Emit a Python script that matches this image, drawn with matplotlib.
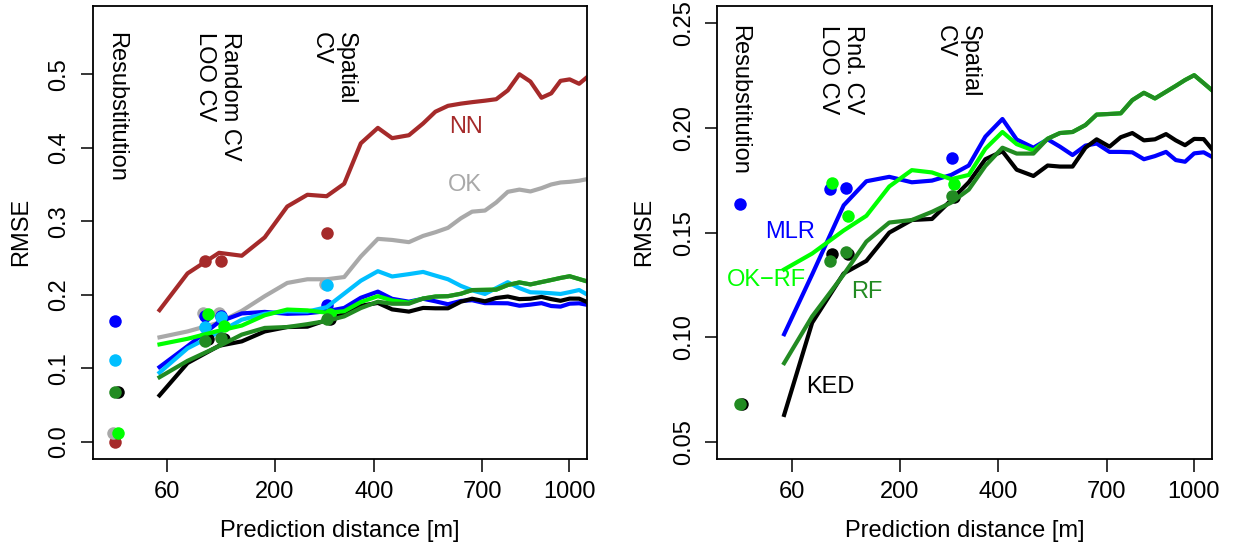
import numpy as np
import matplotlib
matplotlib.use('Agg')
import matplotlib.pyplot as plt
import matplotlib.transforms as mtransforms

plt.rcParams['font.family'] = ['Liberation Sans', 'DejaVu Sans']
plt.rcParams['font.size'] = 17

# prediction distance of each bin [m]
dist = [53, 80, 117, 148, 183, 221, 258, 296, 333, 370, 410, 445, 488, 526, 560,
        596, 634, 668, 708, 744, 782, 821, 859, 898, 933, 967, 1001, 1037, 1071]

rmse_nn = [0.179, 0.229, 0.257, 0.253, 0.278, 0.320, 0.336, 0.334, 0.351, 0.406,
           0.427, 0.413, 0.417, 0.433, 0.449, 0.457, 0.460, 0.462, 0.464, 0.466,
           0.478, 0.500, 0.490, 0.468, 0.474, 0.491, 0.493, 0.487, 0.497]
rmse_ok = [0.142, 0.150, 0.162, 0.178, 0.198, 0.216, 0.221, 0.221, 0.224, 0.252,
           0.276, 0.2745, 0.2715, 0.280, 0.285, 0.291, 0.304, 0.313, 0.3145, 0.3255,
           0.340, 0.343, 0.3405, 0.345, 0.350, 0.3527, 0.3536, 0.3551, 0.3575]
rmse_sky = [0.094, 0.127, 0.149, 0.166, 0.174, 0.1775, 0.177, 0.183, 0.2015, 0.219,
            0.232, 0.2248, 0.228, 0.231, 0.226, 0.221, 0.212, 0.206, 0.201, 0.209,
            0.217, 0.209, 0.2033, 0.2028, 0.202, 0.201, 0.2035, 0.2064, 0.1996]
rmse_mlr = [0.1015, 0.130, 0.163, 0.1745, 0.1766, 0.174, 0.1748, 0.1775, 0.182, 0.1958,
            0.2042, 0.1944, 0.1905, 0.1945, 0.191, 0.187, 0.1915, 0.1925, 0.1885, 0.1885,
            0.1883, 0.185, 0.1865, 0.1885, 0.1846, 0.1838, 0.1878, 0.1883, 0.186]
rmse_ked = [0.063, 0.107, 0.1305, 0.1365, 0.150, 0.156, 0.1565, 0.1655, 0.174, 0.185,
            0.1888, 0.180, 0.177, 0.182, 0.1815, 0.1815, 0.1905, 0.1945, 0.191, 0.1955,
            0.1975, 0.194, 0.1945, 0.197, 0.194, 0.1917, 0.1947, 0.1946, 0.1895]
rmse_okrf = [0.1324, 0.140, 0.151, 0.158, 0.172, 0.1798, 0.1787, 0.1755, 0.1775, 0.190,
             0.198, 0.1922, 0.1892, 0.1948, 0.1975, 0.198, 0.2013, 0.2063, 0.2066, 0.2069,
             0.2132, 0.2167, 0.214, 0.2172, 0.220, 0.2228, 0.2251, 0.2213, 0.2177]
rmse_rf = [0.0877, 0.110, 0.130, 0.1457, 0.1548, 0.156, 0.1599, 0.1643, 0.1705, 0.1818,
           0.1905, 0.1877, 0.1877, 0.1948, 0.1975, 0.198, 0.2013, 0.2063, 0.2066, 0.2069,
           0.2132, 0.2167, 0.214, 0.2172, 0.220, 0.2228, 0.2251, 0.2213, 0.2177]

# error estimates: resubstitution, random CV, LOO CV, spatial CV
est_dist = [21.5, 100, 120, 297]
est_nn = [0.0, 0.2458, 0.2458, 0.2835]
est_ok = [0.0114, 0.1747, 0.1747, 0.215]
est_sky = [0.1112, 0.1565, 0.1692, 0.2132]
est_mlr = [0.1636, 0.1706, 0.1711, 0.1854]
est_ked = [0.068, 0.140, 0.140, 0.167]
est_okrf = [0.0114, 0.1735, 0.158, 0.1731]
est_rf = [0.068, 0.1366, 0.1406, 0.1674]

xticks = [60, 200, 400, 700, 1000]

fig = plt.figure(figsize=(12.33, 5.48), dpi=100)
ax1 = fig.add_axes([0.0752, 0.1633, 0.4011, 0.8257])
ax2 = fig.add_axes([0.5818, 0.1633, 0.4010, 0.8257])


def draw(ax, line, est, col, shift=0.0):
    ax.plot(dist, line, color=col, lw=3.0, zorder=2)
    tr = mtransforms.offset_copy(ax.transData, fig=fig, x=shift, y=0, units='points')
    ax.plot(est_dist, est, 'o', color=col, ms=9, mew=0, transform=tr, zorder=2)


def setup(ax, ylim, yticks, ylabels):
    ax.set_xscale('function', functions=(lambda x: np.sqrt(np.clip(x, 0, None)), np.square))
    ax.set_xlim(10.98, 1068.3)
    ax.set_ylim(*ylim)
    ax.set_xticks(xticks)
    ax.set_xticklabels([str(t) for t in xticks])
    ax.set_yticks(yticks)
    ax.set_yticklabels(ylabels, rotation=90, va='center')
    ax.minorticks_off()
    ax.tick_params(direction='out', length=9, width=1.1, labelsize=17)
    ax.tick_params(axis='x', pad=7)
    ax.tick_params(axis='y', pad=7)
    for s in ax.spines.values():
        s.set_linewidth(1.3)
    ax.set_xlabel('Prediction distance [m]', fontsize=17)
    ax.set_ylabel('RMSE', fontsize=17)
    ax.xaxis.set_label_coords(0.5, -0.136)


# left panel
draw(ax1, rmse_nn, est_nn, '#A52A2A')
draw(ax1, rmse_ok, est_ok, '#A9A9A9', -1.4)
draw(ax1, rmse_mlr, est_mlr, '#0000FF')
draw(ax1, rmse_sky, est_sky, '#00BFFF')
draw(ax1, rmse_ked, est_ked, '#000000', 1.8)
draw(ax1, rmse_okrf, est_okrf, '#00FF00', 1.8)
draw(ax1, rmse_rf, est_rf, '#228B22')
setup(ax1, (-0.0229, 0.5928), [0.0, 0.1, 0.2, 0.3, 0.4, 0.5],
      ['0.0', '0.1', '0.2', '0.3', '0.4', '0.5'])
ax1.yaxis.set_label_coords(-0.1235, 0.5)

ax1.text(648, 0.4286, 'NN', color='#A52A2A', ha='center', va='center')
ax1.text(646, 0.3493, 'OK', color='#A9A9A9', ha='center', va='center')
lab = dict(rotation=-90, rotation_mode='anchor', ha='left', va='center', multialignment='left')
ax1.text(22, 0.558, 'Resubstitution', **lab)
ax1.text(115, 0.558, 'Random CV\nLOO CV', **lab)
ax1.text(310, 0.558, 'Spatial\nCV', **lab)

# right panel
draw(ax2, rmse_mlr, est_mlr, '#0000FF')
draw(ax2, rmse_ked, est_ked, '#000000', 1.8)
draw(ax2, rmse_okrf, est_okrf, '#00FF00', 1.8)
draw(ax2, rmse_rf, est_rf, '#228B22')
setup(ax2, (0.0422, 0.2581), [0.05, 0.10, 0.15, 0.20, 0.25],
      ['0.05', '0.10', '0.15', '0.20', '0.25'])
ax2.yaxis.set_label_coords(-0.1256, 0.5)

ax2.text(58, 0.1504, 'MLR', color='#0000FF', ha='center', va='center')
ax2.text(39, 0.1273, 'OK\u2212RF', color='#00FF00', ha='center', va='center')
ax2.text(148, 0.1218, 'RF', color='#228B22', ha='center', va='center')
ax2.text(100, 0.0764, 'KED', color='#000000', ha='center', va='center')
ax2.text(21, 0.2491, 'Resubstitution', **lab)
ax2.text(113, 0.2491, 'Rnd. CV\nLOO CV', **lab)
ax2.text(309, 0.2491, 'Spatial\nCV', **lab)

fig.savefig('out.png', dpi=100)
